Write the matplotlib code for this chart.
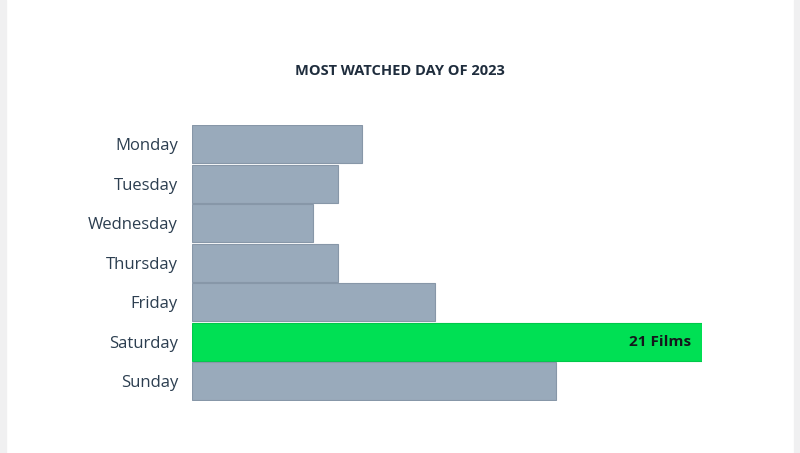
import matplotlib.pyplot as plt
import matplotlib.patches as mpatches

days = ['Monday', 'Tuesday', 'Wednesday', 'Thursday', 'Friday', 'Saturday', 'Sunday']
films = [7, 6, 5, 6, 10, 21, 15]
highlight = 'Saturday'

plt.rcParams['font.family'] = ['Open Sans', 'DejaVu Sans']

fig = plt.figure(figsize=(8, 4.53), dpi=100)
fig.patch.set_facecolor('white')
# grey page edges
fig.add_artist(mpatches.Rectangle((0, 0), 6 / 800, 1, transform=fig.transFigure, color='#f0f0f1', zorder=0))
fig.add_artist(mpatches.Rectangle((794 / 800, 0), 6 / 800, 1, transform=fig.transFigure, color='#f0f0f1', zorder=0))

ax = fig.add_axes([192 / 800, 1 - 401 / 453, 510 / 800, 276.5 / 453])
ypos = list(range(len(days)))
colors = ['#00e054' if d == highlight else '#99aabb' for d in days]
edges = ['#00c94a' if d == highlight else '#8797a8' for d in days]
ax.barh(ypos, films, height=0.96, color=colors, edgecolor=edges, linewidth=0.8)
ax.set_xlim(0, 21)
ax.set_ylim(len(days) - 0.5, -0.5)
ax.set_yticks(ypos)
ax.set_yticklabels(days, fontsize=12, color='#2c3e50')
ax.tick_params(axis='y', length=0, pad=10)
ax.set_xticks([])
for s in ax.spines.values():
    s.set_visible(False)

i = days.index(highlight)
ax.text(films[i] - 0.45, i, f'{films[i]} Films', ha='right', va='center',
        fontsize=11, fontweight='bold', color='#14181c')

fig.text(0.5, 1 - 71 / 453, 'M O S T   W A T C H E D   D A Y   O F   2 0 2 3'.replace('   ', '  ').replace(' ', '\u200a') if False else 'MOST WATCHED DAY OF 2023',
         ha='center', va='center', fontsize=10.5, fontweight='bold', color='#1f2d3d')

fig.savefig('out.png', dpi=100)
